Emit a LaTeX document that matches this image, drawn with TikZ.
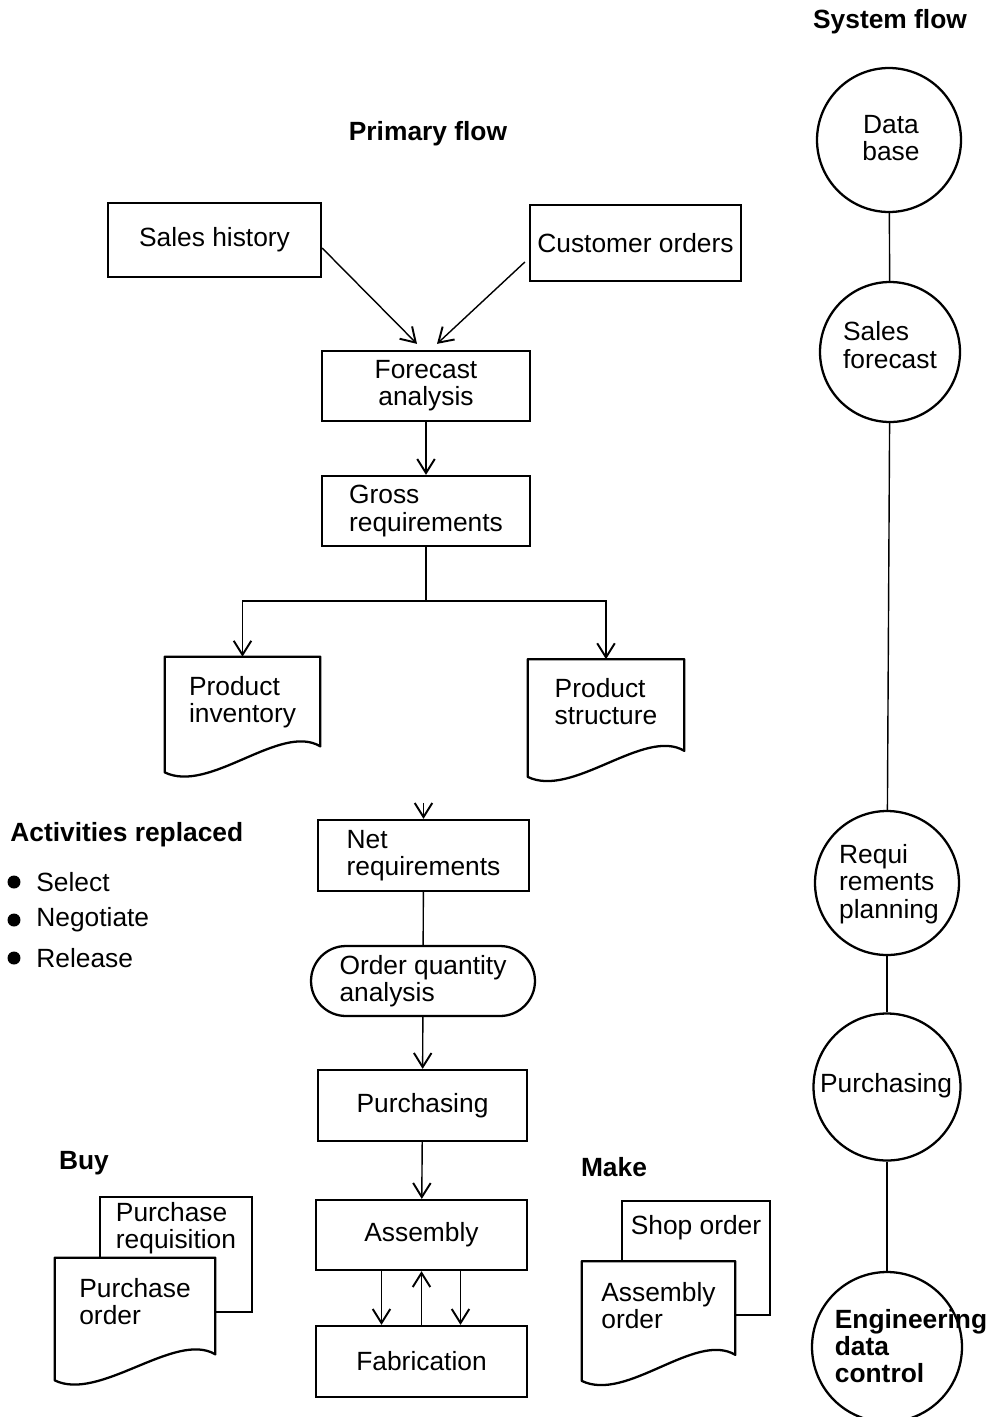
\documentclass[tikz,border=0pt]{standalone}
\usepackage{fontspec}
\setmainfont{Liberation Sans}
\usetikzlibrary{calc,positioning,arrows.meta}

\tikzset{
 box/.style={draw, line width=1.3pt, minimum width=4.16cm, minimum height=1.4cm, inner sep=0pt, align=left, font=\fontsize{15}{15.5}\selectfont},
 txt/.style={inner sep=0pt, align=left, font=\fontsize{15}{15.5}\selectfont},
 head/.style={inner sep=0pt, font=\fontsize{15}{16}\selectfont\bfseries},
 flow/.style={line width=0.8pt},
 arr/.style={flow, -{Straight Barb[length=8pt, width=10pt, line width=1.1pt]}},
 sys/.style={draw, circle, line width=1.3pt, minimum size=2.88cm, inner sep=0pt},
 docbox/.style={inner sep=0pt},
 doc/.style={draw, fill=white, line width=1.3pt, line join=round},
 bul/.style={circle, fill, minimum size=0.26cm, inner sep=0pt},
}

% document symbol round a named node
\newcommand\docoutline[1]{%
 \draw[doc] (#1.south west) -- (#1.north west) -- (#1.north east) -- ($(#1.south east)+(0,-26)$)
  .. controls ($(#1.south east)+(-40,-50)$) and ($(#1.south west)+(45,22)$) .. (#1.south west) -- cycle;}

\begin{document}
\begin{tikzpicture}[x=0.02cm, y=-0.02cm]
\useasboundingbox (0,0) rectangle (989,1417);

% headings
\node[head] (sysflow) at (890,22) {System flow};
\node[head] (primflow) at (428,134) {Primary flow};
\node[head] (buy) at (84,1163) {Buy};
\node[head] (make) at (614,1167) {Make};
\node[head, anchor=west] (act) at (10,835) {Activities replaced};

\foreach \y/\w [count=\i] in {882/Select, 920/Negotiate, 958/Release}{
 \node[bul] (b\i) at (14,\y) {};
 \node[txt, anchor=west] (a\i) at (36,\y) {\w};
}

% primary flow
\node[box, minimum width=4.26cm, minimum height=1.48cm] (sales) at (214.5,240) {Sales history};
\node[box, minimum width=4.22cm, minimum height=1.52cm] (cust) at (635.5,243) {Customer orders};
\node[box, align=center] (fore) at (426,386) {Forecast\\analysis};
\node[box] (gross) at (426,511) {Gross\\requirements};

\coordinate (s1) at ($(sales.east)+(0,8)$);
\coordinate (s2) at ($(fore.north)+(-9,-6)$);
\coordinate (c1) at ($(cust.west)+(-4,19)$);
\coordinate (c2) at ($(fore.north)+(11,-6)$);
\draw[arr] (s1) -- (s2);
\draw[arr] (c1) -- (c2);
\draw[arr] (fore) -- (gross);

\node[docbox, minimum width=3.1cm, minimum height=2.3cm] (inv) at (242.5,714.5) {};
\node[docbox, minimum width=3.12cm, minimum height=2.34cm] (struc) at (606,718) {};
\docoutline{inv}
\docoutline{struc}
\node[txt, below=0.38cm of inv.north] (invt) {Product\\inventory};
\node[txt, below=0.38cm of struc.north] (struct) {Product\\structure};

\coordinate (split) at ($(gross.south)+(0,54)$);
\draw[flow] (gross) -- (split);
\draw[arr] (split) -| (inv.north);
\draw[arr] (split) -| (struc.north);

\node[box, minimum width=4.22cm, minimum height=1.42cm] (net) at (423.5,855.5) {Net\\requirements};
\node[box, minimum width=4.48cm, rounded corners=0.7cm] (oqa) at (423,981) {Order quantity\\analysis};
\node[box, minimum width=4.18cm, minimum height=1.42cm] (purch) at (422.5,1105.5) {Purchasing};
\node[box, minimum width=4.22cm] (asm) at (421.5,1235) {Assembly};
\node[box, minimum width=4.22cm, minimum height=1.42cm] (fab) at (421.5,1361.5) {Fabrication};

\coordinate (netin) at ($(net.north)+(0,-16)$);
\draw[arr] (netin) -- (net);
\draw[flow] (net) -- (oqa);
\draw[arr] (oqa) -- (purch);
\draw[arr] (purch) -- (asm);
\draw[arr] ($(asm.south)+(-40,0)$) -- ($(fab.north)+(-40,0)$);
\draw[arr] (fab) -- (asm);
\draw[arr] ($(asm.south)+(39,0)$) -- ($(fab.north)+(39,0)$);

% buy and make documents
\node[docbox, draw, line width=1.3pt, minimum width=3.04cm, minimum height=2.3cm] (preq) at (176,1254.5) {};
\node[txt, below=0.12cm of preq.north] (preqt) {Purchase\\requisition};
\node[docbox, minimum width=3.2cm, minimum height=2.44cm] (pord) at (135,1319) {};
\docoutline{pord}
\node[txt, below=0.4cm of pord.north] (pordt) {Purchase\\order};

\node[docbox, draw, line width=1.3pt, minimum width=2.96cm, minimum height=2.28cm] (shop) at (696,1258) {};
\node[txt, below=0.3cm of shop.north] (shopt) {Shop order};
\node[docbox, minimum width=3.06cm, minimum height=2.38cm] (aord) at (658.5,1321) {};
\docoutline{aord}
\node[txt, below=0.42cm of aord.north] (aordt) {Assembly\\order};

% system flow
\node[sys] (db) at (889,140) {};
\node[sys, minimum size=2.8cm] (sf) at (890,352) {};
\node[sys] (rp) at (887,883) {};
\node[sys, minimum size=2.94cm] (pu) at (887,1087) {};
\node[sys, minimum size=3cm] (edc) at (887,1347) {};
\draw[flow] (db) -- (sf);
\draw[flow] (sf) -- (rp);
\draw[flow] (rp) -- (pu);
\draw[flow] (pu) -- (edc);

\node[txt, align=center] (dbt) at (891,138) {Data\\base};
\node[txt] (sft) at (890,345) {Sales\\forecast};
\node[txt] (rpt) at (889,884) {Requi\\rements\\planning};
\node[txt] (put) at (886,1086) {Purchasing};
\node[txt, font=\fontsize{15}{15.5}\selectfont\bfseries] (edct) at (911,1346) {Engineering\\data\\control};
\end{tikzpicture}
\end{document}
